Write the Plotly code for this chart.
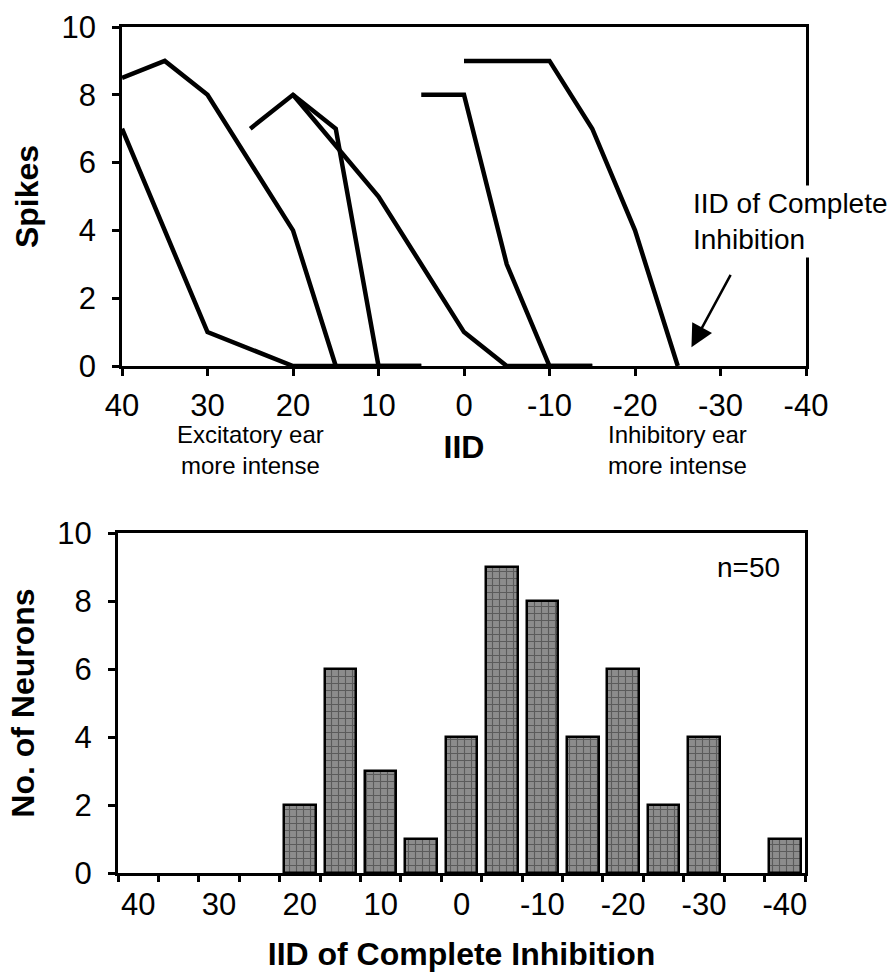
import plotly.graph_objects as go

# ---------------- data ----------------
# Top panel: spike counts vs IID for six example neurons
iid_a = [40, 35, 30, 20, 15]
spk_a = [8.5, 9, 8, 4, 0]
iid_b = [40, 30, 20, 15, 10, 5]
spk_b = [7, 1, 0, 0, 0, 0]
iid_c = [25, 20, 15, 10, 5]
spk_c = [7, 8, 7, 0, 0]
iid_d = [20, 10, 0, -5, -10, -15]
spk_d = [8, 5, 1, 0, 0, 0]
iid_e = [5, 0, -5, -10, -15]
spk_e = [8, 8, 3, 0, 0]
iid_f = [0, -10, -15, -20, -25]
spk_f = [9, 9, 7, 4, 0]

top_xticks = [40, 30, 20, 10, 0, -10, -20, -30, -40]
top_xlabels = ["40", "30", "20", "10", "0", "-10", "-20", "-30", "-40"]
top_yticks = [0, 2, 4, 6, 8, 10]

# Bottom panel: histogram of IID of complete inhibition
hist_bins = [40, 35, 30, 25, 20, 15, 10, 5, 0, -5, -10, -15, -20, -25, -30, -35, -40]
hist_counts = [0, 0, 0, 0, 2, 6, 3, 1, 4, 9, 8, 4, 6, 2, 4, 0, 1]
bin_edges = [42.5, 37.5, 32.5, 27.5, 22.5, 17.5, 12.5, 7.5, 2.5, -2.5, -7.5,
             -12.5, -17.5, -22.5, -27.5, -32.5, -37.5, -42.5]
bottom_xticks = [40, 30, 20, 10, 0, -10, -20, -30, -40]
bottom_xlabels = ["40", "30", "20", "10", "0", "-10", "-20", "-30", "-40"]
bottom_yticks = [0, 2, 4, 6, 8, 10]

FONT = "Liberation Sans, Arial, Helvetica, sans-serif"
W, H = 894, 975

fig = go.Figure()

for xs, ys in [(iid_a, spk_a), (iid_b, spk_b), (iid_c, spk_c),
               (iid_d, spk_d), (iid_e, spk_e), (iid_f, spk_f)]:
    fig.add_trace(go.Scatter(x=xs, y=ys, mode="lines",
                             line=dict(color="black", width=4.5),
                             xaxis="x", yaxis="y", showlegend=False,
                             hoverinfo="skip"))

bar_x = [b for b, c in zip(hist_bins, hist_counts) if c > 0]
bar_y = [c for c in hist_counts if c > 0]
fig.add_trace(go.Bar(x=bar_x, y=bar_y, width=3.9,
                     marker=dict(color="#808080",
                                 line=dict(color="black", width=2.5),
                                 pattern=dict(shape="+", fgcolor="#2a2a2a",
                                              bgcolor="#8c8c8c", size=7,
                                              solidity=0.3)),
                     xaxis="x2", yaxis="y2", showlegend=False,
                     hoverinfo="skip"))

tickfont = dict(family=FONT, size=31, color="black")
titlefont = dict(family=FONT, size=32, color="black", weight="bold")

common_ax = dict(showgrid=False, zeroline=False, showline=True, linecolor="black",
                 linewidth=2.5, mirror=True, ticks="outside", ticklen=7,
                 tickwidth=2.5, tickcolor="black", tickfont=tickfont,
                 automargin=False)

fig.update_layout(
    width=W, height=H,
    margin=dict(l=0, r=0, t=0, b=0),
    paper_bgcolor="white", plot_bgcolor="white",
    bargap=0,
    xaxis=dict(domain=[122 / W, 806 / W], range=[40, -40], tickvals=top_xticks,
               ticktext=top_xlabels, anchor="y", ticklabelstandoff=3,
               title=dict(text="IID", font=titlefont, standoff=14),
               **common_ax),
    yaxis=dict(domain=[1 - 366 / H, 1 - 27 / H], range=[0, 10], tickvals=top_yticks,
               anchor="x", ticklabelstandoff=10,
               title=dict(text="Spikes", font=titlefont, standoff=14),
               **common_ax),
    xaxis2=dict(domain=[118 / W, 805 / W], range=[42.5, -42.5],
                tickvals=bottom_xticks, ticktext=bottom_xlabels, anchor="y2",
                showgrid=False, zeroline=False, showline=True, linecolor="black",
                linewidth=3, mirror=True, ticks="", tickfont=tickfont,
                ticklabelstandoff=2, automargin=False,
                minor=dict(tickvals=bin_edges, ticks="outside", ticklen=6,
                           tickwidth=2.5, tickcolor="black"),
                title=dict(text="IID of Complete Inhibition", font=titlefont,
                           standoff=22)),
    yaxis2=dict(domain=[1 - 873 / H, 1 - 533 / H], range=[0, 10],
                tickvals=bottom_yticks, anchor="x2", ticklabelstandoff=10,
                title=dict(text="No. of Neurons", font=titlefont, standoff=14),
                showgrid=False, zeroline=False, showline=True, linecolor="black",
                linewidth=3, mirror=True, ticks="outside", ticklen=7,
                tickwidth=2.5, tickcolor="black", tickfont=tickfont,
                automargin=False),
)

annots = [
    dict(text="Excitatory ear<br>more intense", x=25, xref="x", y=1 - 450 / H,
         yref="paper", showarrow=False, font=dict(family=FONT, size=24, color="black"),
         xanchor="center", yanchor="middle", align="center"),
    dict(text="Inhibitory ear<br>more intense", x=-25, xref="x", y=1 - 450 / H,
         yref="paper", showarrow=False, font=dict(family=FONT, size=24, color="black"),
         xanchor="center", yanchor="middle", align="center"),
    dict(text="IID of Complete<br>Inhibition", x=690 / W, xref="paper",
         y=1 - 222 / H, yref="paper", showarrow=False, bgcolor="white",
         font=dict(family=FONT, size=28, color="black"),
         xanchor="left", yanchor="middle", align="left", borderpad=2),
    dict(text="", x=-26.6, xref="x", y=0.55, yref="y", showarrow=True,
         ax=40, ay=-74, axref="pixel", ayref="pixel", arrowhead=2,
         arrowsize=1.8, arrowwidth=2.5, arrowcolor="black"),
    dict(text="n=50", x=748 / W, xref="paper", y=1 - 567 / H, yref="paper",
         showarrow=False, font=dict(family=FONT, size=28, color="black"),
         xanchor="center", yanchor="middle"),
]
fig.update_layout(annotations=annots)

fig.write_html("out.html", config={"displayModeBar": False},
               post_script="document.body.style.margin='0px';document.body.style.overflow='hidden';")
